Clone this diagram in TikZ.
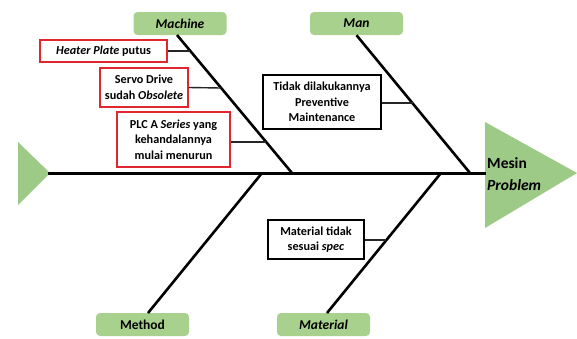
\documentclass[tikz,border=0pt]{standalone}
\usepackage{fontspec}
\setmainfont{Carlito}
\usetikzlibrary{calc}
\definecolor{gfill}{HTML}{A9D18E}
\definecolor{gtri}{HTML}{9DCB87}
\definecolor{rbox}{HTML}{E0262E}
\tikzset{
  cat/.style={fill=gfill, rounded corners=4pt, minimum width=93pt, minimum height=23pt, inner sep=0pt, font=\fontsize{13.5}{15}\selectfont\bfseries},
  cause/.style={draw=rbox, line width=1.5pt, fill=white, inner sep=0pt, align=center, font=\fontsize{12.2}{15.5}\selectfont\bfseries},
  causeb/.style={draw=black, line width=1.5pt, fill=white, inner sep=0pt, align=center, font=\fontsize{12.2}{15.5}\selectfont\bfseries},
  bone/.style={line width=2.6pt, black},
  twig/.style={line width=1.4pt, black!85},
}
\begin{document}
\begin{tikzpicture}[x=1pt,y=-1pt]
\useasboundingbox (0,0) rectangle (577,338);
% triangles
\fill[gtri] (18,142) -- (50,173) -- (18,205) -- cycle;
\fill[gtri] (485,122) -- (577,173) -- (485,228) -- cycle;
% spine
\coordinate (tail) at (48,173);
\coordinate (head) at (486,173);
\draw[line width=3pt] (tail) -- (head);
% category boxes
\node[cat] (machine) at (180,23.5) {\itshape Machine};
\node[cat] (man) at (356.5,23.5) {\itshape Man};
\node[cat] (method) at (142.5,324.5) {Method};
\node[cat] (material) at (323.5,324.5) {\itshape Material};
% spine joints
\coordinate (jA) at (292,173);
\coordinate (jB) at (470,173);
\coordinate (jC) at (262,173);
\coordinate (jD) at (441,173);
\coordinate (sA) at (177,35);
\coordinate (sC) at (148,313);
\coordinate (sD) at (327,313);
\draw[bone] (sA) -- (jA);
\draw[bone] (man.south) -- (jB);
\draw[bone] (sC) -- (jC);
\draw[bone] (sD) -- (jD);
% cause boxes
\node[cause, minimum width=127pt, minimum height=22pt] (heater) at (103.5,51) {\itshape Heater Plate\upshape\ putus};
\node[cause, minimum width=88pt, minimum height=39pt] (servo) at (144,87.5) {Servo Drive\\sudah \itshape Obsolete};
\node[cause, minimum width=113pt, minimum height=55pt] (plc) at (173.5,139.5) {PLC A \textit{Series} yang\\kehandalannya\\mulai menurun};
\node[causeb, minimum width=118pt, minimum height=54pt] (tidak) at (322,102) {Tidak dilakukannya\\Preventive\\Maintenance};
\node[causeb, minimum width=96pt, minimum height=39pt] (mat) at (316,239.5) {Material tidak\\sesuai \textit{spec}};
% twig end points on bones
\coordinate (pH) at (190,51);
\coordinate (pS) at (221,88);
\coordinate (pP) at (266,142);
\coordinate (pT) at (413,103);
\coordinate (pM) at (386,240);
\draw[twig] (heater.east) -- (pH);
\draw[twig] (servo.east) -- (pS);
\draw[twig] (plc.east |- pP) -- (pP);
\draw[twig] (tidak.east |- pT) -- (pT);
\draw[twig] (mat.east |- pM) -- (pM);
% head text
\node[anchor=west, align=left, inner sep=0pt, font=\fontsize{15.5}{22}\selectfont\bfseries] (prob) at (487,174) {Mesin\\\itshape Problem};
\end{tikzpicture}
\end{document}
